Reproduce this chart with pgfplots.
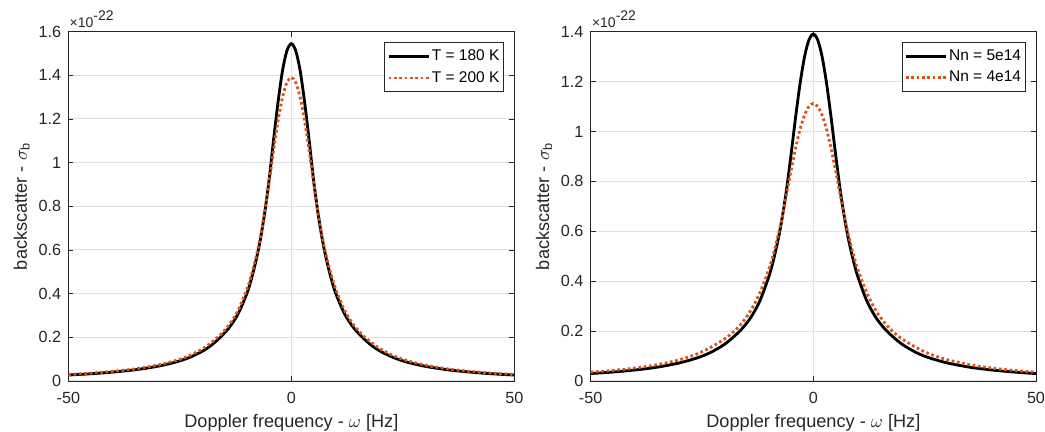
\documentclass[border=0pt]{standalone}
\usepackage{fontspec}
\setmainfont{Liberation Sans}
\usepackage{pgfplots}
\usepackage{pgfplotstable}
\pgfplotsset{compat=1.18}
\definecolor{morange}{RGB}{217,83,25}
\definecolor{axc}{RGB}{38,38,38}
\definecolor{gridc}{RGB}{225,225,225}

% left, T = 180 K
\pgfplotstableread{
x y
-50 0.0273
-45 0.0330
-40 0.0409
-35 0.0515
-30 0.0673
-26 0.0862
-23 0.1066
-20 0.1355
-18 0.1627
-16 0.1989
-14 0.2431
-12 0.3049
-10 0.3989
-9 0.4644
-8 0.5443
-7 0.6417
-6 0.7660
-5 0.9180
-4 1.1011
-3 1.2737
-2 1.4186
-1 1.5118
0 1.5450
1 1.5118
2 1.4186
3 1.2737
4 1.1011
5 0.9180
6 0.7660
7 0.6417
8 0.5443
9 0.4644
10 0.3989
12 0.3049
14 0.2431
16 0.1989
18 0.1627
20 0.1355
23 0.1066
26 0.0862
30 0.0673
35 0.0515
40 0.0409
45 0.0330
50 0.0273
}\tA
% left T = 200 K  /  right Nn = 5e14
\pgfplotstableread{
x y
-50 0.0297
-45 0.0360
-40 0.0442
-35 0.0556
-30 0.0727
-26 0.0931
-23 0.1149
-20 0.1464
-18 0.1753
-16 0.2098
-14 0.2556
-12 0.3213
-10 0.4180
-9 0.4820
-8 0.5586
-7 0.6538
-6 0.7694
-5 0.9082
-4 1.0547
-3 1.1891
-2 1.2972
-1 1.3662
0 1.3905
1 1.3662
2 1.2972
3 1.1891
4 1.0547
5 0.9082
6 0.7694
7 0.6538
8 0.5586
9 0.4820
10 0.4180
12 0.3213
14 0.2556
16 0.2098
18 0.1753
20 0.1464
23 0.1149
26 0.0931
30 0.0727
35 0.0556
40 0.0442
45 0.0360
50 0.0297
}\tB
% right Nn = 4e14
\pgfplotstableread{
x y
-50 0.0353
-45 0.0424
-40 0.0520
-35 0.0655
-30 0.0855
-26 0.1094
-23 0.1351
-20 0.1678
-18 0.1962
-16 0.2335
-14 0.2840
-12 0.3538
-10 0.4469
-9 0.5066
-8 0.5765
-7 0.6563
-6 0.7504
-5 0.8438
-4 0.9310
-3 1.0068
-2 1.0637
-1 1.0999
0 1.1124
1 1.0999
2 1.0637
3 1.0068
4 0.9310
5 0.8438
6 0.7504
7 0.6563
8 0.5765
9 0.5066
10 0.4469
12 0.3538
14 0.2840
16 0.2335
18 0.1962
20 0.1678
23 0.1351
26 0.1094
30 0.0855
35 0.0655
40 0.0520
45 0.0424
50 0.0353
}\tC

\pgfplotsset{
  mystyle/.style={
    anchor=south west, scale only axis,
    height=209.6pt,
    xmin=-50, xmax=50, ymin=0,
    xtick={-50,0,50}, xticklabels={-50,0,50},
    grid=major, major grid style={gridc, line width=0.6pt},
    axis line style={axc, line width=0.5pt},
    tick style={axc, line width=0.5pt}, major tick length=3pt, tick align=inside,
    ticklabel style={font=\fontsize{9.7}{11}\selectfont, text=axc},
    xticklabel style={yshift=-3pt},
    yticklabel style={xshift=-0.8pt},
    xlabel={Doppler frequency - $\omega$ [Hz]},
    ylabel={backscatter - $\sigma_{\mathrm{b}}$},
    label style={font=\fontsize{10.9}{12}\selectfont, text=axc},
    xlabel style={at={(axis description cs:0.5,0)}, anchor=north, inner sep=0pt, yshift=-20pt},
    ylabel style={at={(axis description cs:-0.1045,0.5)}, anchor=center, inner sep=0pt},
    legend cell align=left,
    legend image code/.code={\draw[##1] (0pt,0pt) -- (24pt,0pt);},
    legend style={at={(rel axis cs:1,1)}, anchor=north east, xshift=-6.2pt, yshift=-6.4pt,
      draw=axc, line width=0.5pt, fill=white, text=black,
      font=\fontsize{9.3}{11}\selectfont, inner xsep=1.5pt, inner ysep=2.2pt, row sep=1pt,
      nodes={inner xsep=1pt}},
  },
  blk/.style={black, line width=1.7pt, smooth},
  org/.style={morange, line width=1.7pt, dash pattern=on 1.6pt off 1.6pt, smooth},
}

\begin{document}
\begin{tikzpicture}
\path[use as bounding box] (0,0) rectangle (627pt,259.2pt);
\begin{axis}[mystyle, name=L, at={(41pt,30.6pt)}, width=267.6pt, ymax=1.6,
  ytick={0,0.2,0.4,0.6,0.8,1,1.2,1.4,1.6},
  yticklabels={0,0.2,0.4,0.6,0.8,1,1.2,1.4,1.6}]
\addplot[blk] table[x=x,y=y] {\tA};
\addlegendentry{T = 180 K}
\addplot[org] table[x=x,y=y] {\tB};
\addlegendentry{T = 200 K}
\end{axis}
\begin{axis}[mystyle, name=R, at={(354.4pt,30.6pt)}, width=267.2pt, ymax=1.4,
  ytick={0,0.2,0.4,0.6,0.8,1,1.2,1.4},
  yticklabels={0,0.2,0.4,0.6,0.8,1,1.2,1.4}]
\addplot[blk] table[x=x,y=y] {\tB};
\addlegendentry{Nn = 5e14}
\addplot[org] table[x=x,y=y] {\tC};
\addlegendentry{Nn = 4e14}
\end{axis}
\node[anchor=base west, inner sep=0pt, font=\fontsize{8.4}{9}\selectfont, text=axc]
  at ([xshift=0.6pt, yshift=2.4pt]L.north west) {×10\raisebox{4.3pt}{-22}};
\node[anchor=base west, inner sep=0pt, font=\fontsize{8.4}{9}\selectfont, text=axc]
  at ([xshift=0.6pt, yshift=2.4pt]R.north west) {×10\raisebox{4.3pt}{-22}};
\end{tikzpicture}
\end{document}
